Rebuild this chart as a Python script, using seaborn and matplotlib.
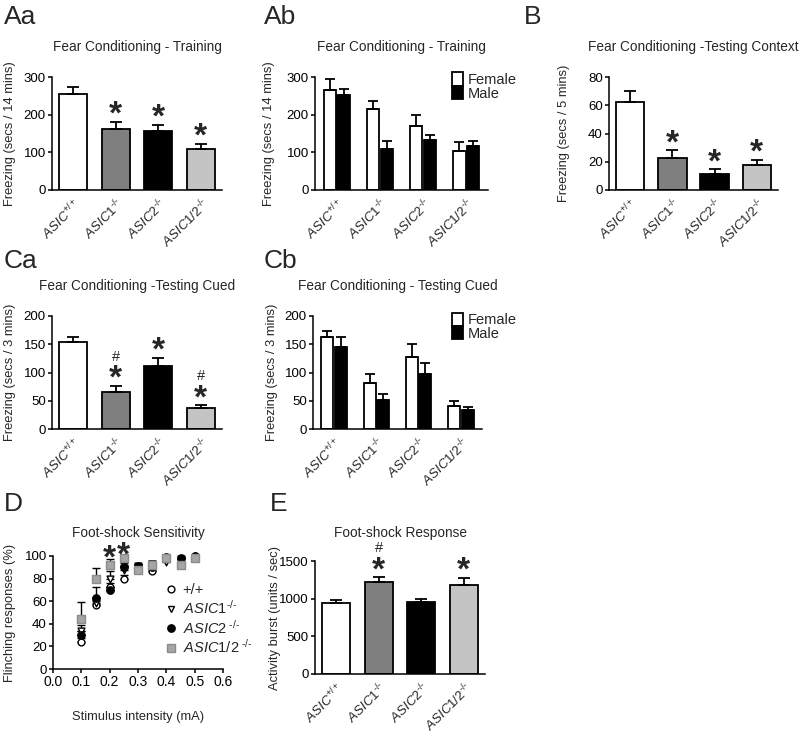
import numpy as np
import pandas as pd
import matplotlib
matplotlib.use('Agg')
import matplotlib.pyplot as plt
import seaborn as sns
from matplotlib.lines import Line2D

sns.set_theme(style='ticks')
plt.rcParams['font.family'] = ['Liberation Sans', 'DejaVu Sans']
plt.rcParams['mathtext.fontset'] = 'custom'
plt.rcParams['mathtext.rm'] = 'Liberation Sans'
plt.rcParams['mathtext.it'] = 'Liberation Sans:italic'
plt.rcParams['mathtext.bf'] = 'Liberation Sans:bold'

HY = '\u2010'

# ---------------- data ----------------
genotypes = ['ASIC+/+', 'ASIC1-/-', 'ASIC2-/-', 'ASIC1/2-/-']
genotype_labels = [r'$\mathit{ASIC}^{+/+}$', r'$\mathit{ASIC1}^{' + HY + '/' + HY + '}$',
                   r'$\mathit{ASIC2}^{' + HY + '/' + HY + '}$',
                   r'$\mathit{ASIC1/2}^{' + HY + '/' + HY + '}$']
bar_colors = ['#ffffff', '#7f7f7f', '#000000', '#c4c4c4']
sexes = ['Female', 'Male']
sex_colors = {'Female': '#ffffff', 'Male': '#000000'}

# Aa  Fear conditioning - training
train_mean = [256, 163, 157, 109]
train_sem = [18, 18, 16, 14]
train_star = ['', '*', '*', '*']

# Ab  Training by sex
train_female = [265, 216, 171, 104]
train_female_sem = [30, 20, 28, 23]
train_male = [252, 110, 132, 116]
train_male_sem = [16, 19, 13, 13]

# B  Testing context
context_mean = [62.1, 22.4, 11.1, 17.4]
context_sem = [7.9, 5.8, 3.5, 4.0]
context_star = ['', '*', '*', '*']

# Ca  Testing cued
cued_mean = [154, 66, 112, 37]
cued_sem = [9.5, 10.5, 14.5, 5]
cued_star = ['', '*', '*', '*']
cued_hash = ['', '#', '', '#']

# Cb  Testing cued by sex
cued_female = [163, 81, 128, 40.6]
cued_female_sem = [10.5, 17, 22, 8.4]
cued_male = [146, 51, 98, 33]
cued_male_sem = [16, 11, 19, 6]

# D  Foot-shock sensitivity
intensity = [0.1, 0.15, 0.2, 0.25, 0.3, 0.35, 0.4, 0.45, 0.5]
flinch_wt = [24, 57, 73, 80, 90, 87, 98, 95, 100]
flinch_wt_sem = [3, 3, 3, 3, 2, 2, 1, 1, 1]
flinch_a1 = [34, 58, 80, 88, 91, 93, 95, 97, 98]
flinch_a1_sem = [5, 5, 7, 4, 2, 3, 2, 1, 1]
flinch_a2 = [30, 63, 70, 90, 91, 90, 99, 98, 100]
flinch_a2_sem = [4, 10, 3, 4, 2, 2, 1, 1, 1]
flinch_a12 = [44, 80, 92, 98, 88, 92, 98, 92, 98]
flinch_a12_sem = [15, 9, 5, 2, 3, 4, 1, 2, 1]
flinch_sig = [0.2, 0.25]
flinch_labels = ['+/+', r'$\mathit{ASIC1}^{' + HY + '/' + HY + '}$',
                 r'$\mathit{ASIC2}^{\ ' + HY + '/' + HY + '}$',
                 r'$\mathit{ASIC1/2}^{\ ' + HY + '/' + HY + '}$']

# E  Foot-shock response
response_mean = [943, 1224, 952, 1188]
response_sem = [40, 62, 49, 89]
response_star = ['', '*', '', '*']
response_hash = ['', '#', '', '']

# ---------------- layout helpers ----------------
W, H = 800, 734
fig = plt.figure(figsize=(W / 100, H / 100), dpi=100)

TICK_FS = 9.5
LAB_FS = 9.3
TITLE_FS = 9.8
STAR_FS = 24


def px_axes(x0, y0, x1, y1):
    return fig.add_axes([x0 / W, 1 - y1 / H, (x1 - x0) / W, (y1 - y0) / H])


def style(ax, title, ylabel, ylab_x, pad=19):
    sns.despine(ax=ax)
    for s in ['left', 'bottom']:
        ax.spines[s].set_linewidth(1.1)
        ax.spines[s].set_color('black')
    ax.tick_params(axis='y', length=3, width=1.1, labelsize=TICK_FS, pad=1.5, colors='black')
    ax.set_title(title, fontsize=TITLE_FS, pad=pad)
    ax.set_ylabel(ylabel, fontsize=LAB_FS)
    ax.yaxis.set_label_coords(ylab_x, 0.5)
    ax.set_xlabel('')


def set_geno_ticks(ax):
    ax.set_xticks(range(len(genotypes)))
    ax.set_xticklabels(genotype_labels, rotation=45, ha='right', va='top',
                       rotation_mode='anchor', fontsize=9.5)
    ax.tick_params(axis='x', length=0, pad=4)


def annotate_marks(ax, xs, tops, stars=None, hashes=None):
    for i, x in enumerate(xs):
        if stars and stars[i]:
            ax.annotate(stars[i], xy=(x, tops[i]), xytext=(0, -1.5), textcoords='offset points',
                        ha='center', va='baseline', fontsize=STAR_FS, fontweight='bold',
                        annotation_clip=False)
        if hashes and hashes[i]:
            ax.annotate(hashes[i], xy=(x, tops[i]), xytext=(0, 18), textcoords='offset points',
                        ha='center', va='baseline', fontsize=10.5, annotation_clip=False)


def single_bars(ax, means, sems, stars=None, hashes=None):
    df = pd.DataFrame({'genotype': genotypes, 'value': means})
    sns.barplot(data=df, x='genotype', y='value', hue='genotype', hue_order=genotypes,
                palette=bar_colors, legend=False, edgecolor='black', linewidth=1.3,
                width=0.67, errorbar=None, saturation=1, ax=ax)
    centers = [p.get_x() + p.get_width() / 2 for p in ax.patches]
    tops = [p.get_height() for p in ax.patches]
    ax.errorbar(centers, tops, yerr=[np.zeros(len(sems)), sems], fmt='none', ecolor='black',
                elinewidth=1.3, capsize=4.5, capthick=1.3, zorder=1)
    ends = [t + s for t, s in zip(tops, sems)]
    annotate_marks(ax, centers, ends, stars, hashes)
    ax.set_xlim(-0.5, len(genotypes) - 0.5)
    set_geno_ticks(ax)


def sex_bars(ax, female, female_sem, male, male_sem, leg_anchor):
    df = pd.DataFrame({'genotype': genotypes * 2,
                       'sex': [sexes[0]] * 4 + [sexes[1]] * 4,
                       'value': female + male})
    sns.barplot(data=df, x='genotype', y='value', hue='sex', hue_order=sexes,
                palette=sex_colors, edgecolor='black', linewidth=1.3, width=0.64, gap=0.12,
                errorbar=None, saturation=1, ax=ax)
    for cont, sems in zip(ax.containers, [female_sem, male_sem]):
        cx = [p.get_x() + p.get_width() / 2 for p in cont.patches]
        tops = [p.get_height() for p in cont.patches]
        ax.errorbar(cx, tops, yerr=[np.zeros(len(sems)), sems], fmt='none', ecolor='black',
                    elinewidth=1.3, capsize=3.5, capthick=1.3, zorder=1)
    ax.legend(loc='upper left', bbox_to_anchor=leg_anchor, frameon=False, fontsize=10.5,
              handlelength=0.8, handleheight=1.0, handletextpad=0.3, labelspacing=-0.05,
              borderaxespad=0, borderpad=0)
    ax.set_xlim(-0.5, len(genotypes) - 0.5)
    set_geno_ticks(ax)


# ---------------- Aa ----------------
ax = px_axes(52, 77, 222, 190)
single_bars(ax, train_mean, train_sem, train_star)
ax.set_ylim(0, 300)
ax.set_yticks([0, 100, 200, 300])
style(ax, 'Fear Conditioning - Training', 'Freezing (secs / 14 mins)', -0.21)

# ---------------- Ab ----------------
ax = px_axes(315, 77, 488, 190)
sex_bars(ax, train_female, train_female_sem, train_male, train_male_sem, (0.79, 1.04))
ax.set_ylim(0, 300)
ax.set_yticks([0, 100, 200, 300])
style(ax, 'Fear Conditioning - Training', 'Freezing (secs / 14 mins)', -0.23)

# ---------------- B ----------------
ax = px_axes(609, 77, 778, 190)
single_bars(ax, context_mean, context_sem, context_star)
ax.set_ylim(0, 80)
ax.set_yticks([0, 20, 40, 60, 80])
style(ax, 'Fear Conditioning -Testing Context', 'Freezing (secs / 5 mins)', -0.23)

# ---------------- Ca ----------------
ax = px_axes(52, 316, 222, 429)
single_bars(ax, cued_mean, cued_sem, cued_star, cued_hash)
ax.set_ylim(0, 200)
ax.set_yticks([0, 50, 100, 150, 200])
style(ax, 'Fear Conditioning -Testing Cued', 'Freezing (secs / 3 mins)', -0.21)

# ---------------- Cb ----------------
ax = px_axes(313, 316, 482, 429)
sex_bars(ax, cued_female, cued_female_sem, cued_male, cued_male_sem, (0.82, 1.03))
ax.set_ylim(0, 200)
ax.set_yticks([0, 50, 100, 150, 200])
style(ax, 'Fear Conditioning - Testing Cued', 'Freezing (secs / 3 mins)', -0.21)

# ---------------- D ----------------
ax = px_axes(53, 556, 223, 669)
d_series = [
    (flinch_wt, flinch_wt_sem, 'o', '#ffffff', '#000000', 24),
    (flinch_a1, flinch_a1_sem, 'v', '#ffffff', '#000000', 24),
    (flinch_a2, flinch_a2_sem, 'o', '#000000', '#000000', 28),
    (flinch_a12, flinch_a12_sem, 's', '#a6a6a6', '#8c8c8c', 34),
]
handles = []
for (ys, es, mk, fc, ec, sz), lab in zip(d_series, flinch_labels):
    ax.errorbar(intensity, ys, yerr=[np.zeros(len(es)), es], fmt='none', ecolor='black',
                elinewidth=1.0, capsize=3, capthick=1.0, zorder=2, clip_on=False)
    sns.scatterplot(x=intensity, y=ys, marker=mk, s=sz, color=fc, edgecolor=ec,
                    linewidth=1.0, ax=ax, zorder=3, clip_on=False)
    handles.append(Line2D([], [], linestyle='none', marker=mk, markersize=np.sqrt(sz),
                          markerfacecolor=fc, markeredgecolor=ec, markeredgewidth=1.0, label=lab))
all_series = [np.array(s[0]) + np.array(s[1]) for s in d_series]
for xs in flinch_sig:
    idx = intensity.index(xs)
    top = max(s[idx] for s in all_series)
    ax.annotate('*', xy=(xs, top), xytext=(0, -6), textcoords='offset points', ha='center',
                va='baseline', fontsize=STAR_FS, fontweight='bold', annotation_clip=False)
ax.legend(handles=handles, loc='upper left', bbox_to_anchor=(0.66, 0.76), frameon=False,
          fontsize=10.5, handletextpad=0.4, labelspacing=0.12, borderaxespad=0, borderpad=0,
          handlelength=0.8)
ax.set_xlim(0, 0.6)
ax.set_ylim(0, 100)
ax.set_xticks([0, 0.1, 0.2, 0.3, 0.4, 0.5, 0.6])
ax.set_xticklabels(['0.0', '0.1', '0.2', '0.3', '0.4', '0.5', '0.6'])
ax.set_yticks([0, 20, 40, 60, 80, 100])
style(ax, 'Foot-shock Sensitivity', 'Flinching responses (%)', -0.215, pad=14)
ax.tick_params(axis='x', length=3, width=1.1, labelsize=10, pad=1.5, colors='black')
ax.set_xlabel('Stimulus intensity (mA)', fontsize=LAB_FS, labelpad=16)

# ---------------- E ----------------
ax = px_axes(315, 561, 485, 674)
single_bars(ax, response_mean, response_sem, response_star, response_hash)
ax.set_ylim(0, 1500)
ax.set_yticks([0, 500, 1000, 1500])
style(ax, 'Foot-shock Response', 'Activity burst (units / sec)', -0.2, pad=17)

# ---------------- panel letters ----------------
for txt, x, y in [('Aa', 4, 24), ('Ab', 264, 24), ('B', 524, 24), ('Ca', 4, 268),
                  ('Cb', 264, 268), ('D', 4, 511), ('E', 270, 511)]:
    fig.text(x / W, 1 - y / H, txt, fontsize=19, ha='left', va='baseline')

fig.savefig('out.png', dpi=100)
